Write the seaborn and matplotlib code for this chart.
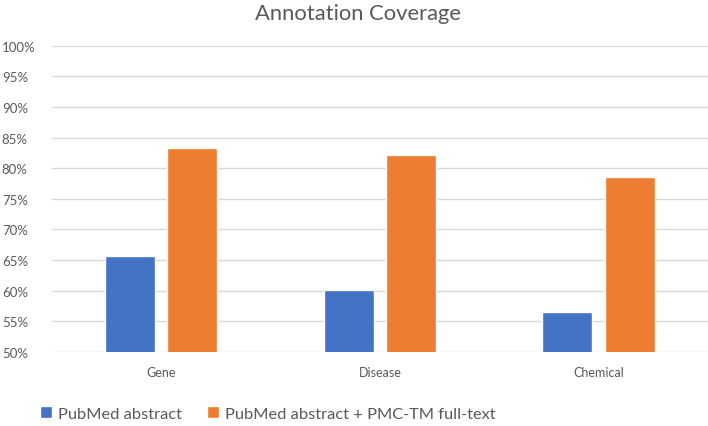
import matplotlib
matplotlib.use("Agg")
import matplotlib.pyplot as plt
import seaborn as sns
import pandas as pd
from matplotlib.ticker import FuncFormatter

categories = ["Gene", "Disease", "Chemical"]
series_names = ["PubMed abstract", "PubMed abstract + PMC-TM full-text"]
pubmed_abstract = [65.6, 60.1, 56.5]
pubmed_plus_pmc = [83.3, 82.2, 78.6]
yticks = [50, 55, 60, 65, 70, 75, 80, 85, 90, 95, 100]
colors = ["#4472C4", "#ED7D31"]

df = pd.DataFrame({
    "Category": categories * 2,
    "Series": [series_names[0]] * 3 + [series_names[1]] * 3,
    "Value": pubmed_abstract + pubmed_plus_pmc,
})

sns.set_theme(style="white")
plt.rcParams["font.family"] = ["Lato", "DejaVu Sans"]
text_color = "#595959"

fig = plt.figure(figsize=(7.08, 4.27), dpi=100)
ax = fig.add_axes([0.073, 0.174, 0.927, 0.7166])

sns.barplot(data=df, x="Category", y="Value", hue="Series", palette=colors,
            width=0.571, gap=0.2, ax=ax, saturation=1, legend=True)

ax.set_ylim(50, 100)
ax.set_xlim(-0.5, 2.5)
ax.set_yticks(yticks)
ax.yaxis.set_major_formatter(FuncFormatter(lambda v, p: f"{int(v)}%"))
ax.grid(axis="y", color="#D9D9D9", linewidth=1.0)
ax.set_axisbelow(True)
for s in ax.spines.values():
    s.set_visible(False)
ax.set_xlabel("")
ax.set_ylabel("")
ax.tick_params(axis="y", length=0, pad=0, labelsize=9.5, labelcolor=text_color)
ax.tick_params(axis="x", length=0, pad=10, labelsize=9, labelcolor=text_color)
for lbl in ax.get_yticklabels():
    lbl.set_horizontalalignment("left")
    lbl.set_transform(ax.get_yaxis_transform())
    lbl.set_position((-0.076, 0))

fig.text(0.505, 0.967, "Annotation Coverage", ha="center", va="center",
         fontsize=15.8, color=text_color)

handles, labels = ax.get_legend_handles_labels()
ax.get_legend().remove()
fig.legend(handles, labels, loc="center", bbox_to_anchor=(0.378, 0.03),
           ncol=2, frameon=False, fontsize=11.8, labelcolor=text_color,
           handlelength=0.75, handleheight=0.75, handletextpad=0.35,
           columnspacing=1.5)

fig.savefig("out.png", dpi=100)
